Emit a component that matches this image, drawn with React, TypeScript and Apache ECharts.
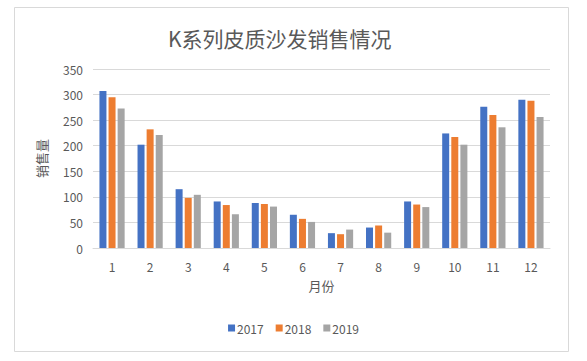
import React, { useEffect, useRef } from "react";
import * as echarts from "echarts";

const months = ["1", "2", "3", "4", "5", "6", "7", "8", "9", "10", "11", "12"];
const sales2017 = [307, 202, 115, 91, 88, 65, 29, 40, 91, 224, 276, 290];
const sales2018 = [295, 232, 98, 84, 86, 57, 27, 44, 85, 217, 260, 288];
const sales2019 = [273, 221, 104, 66, 81, 51, 36, 30, 80, 202, 236, 256];
const yTicks = { min: 0, max: 350, interval: 50 };

const FONT = "'Noto Sans CJK SC', 'Noto Sans', sans-serif";
const TXT = "#595959";

export default function App() {
  const ref = useRef<HTMLDivElement>(null);
  useEffect(() => {
    const chart = echarts.init(ref.current!, null, { renderer: "svg" });
    const bar = (name: string, data: number[], color: string) => ({
      name,
      type: "bar",
      data,
      barWidth: 7,
      barGap: "30%",
      itemStyle: { color },
    });
    chart.setOption({
      animation: false,
      textStyle: { fontFamily: FONT },
      graphic: [
        {
          type: "rect",
          shape: { x: 14.5, y: 7.5, width: 554, height: 344 },
          style: { fill: "none", stroke: "#d9d9d9", lineWidth: 1 },
          z: -1,
        },
      ],
      title: {
        text: "K系列皮质沙发销售情况",
        left: 163,
        top: 22,
        textStyle: { fontFamily: FONT, fontSize: 21, fontWeight: "normal", color: TXT },
      },
      legend: {
        bottom: 22,
        left: "center",
        itemWidth: 7,
        itemHeight: 7,
        itemGap: 12,
        icon: "rect",
        textStyle: { fontFamily: FONT, fontSize: 12, color: TXT, padding: [0, 0, 0, -3] },
        data: ["2017", "2018", "2019"],
      },
      grid: { left: 93, right: 37, top: 69, bottom: 113 },
      xAxis: {
        type: "category",
        data: months,
        name: "月份",
        nameLocation: "middle",
        nameGap: 31,
        nameTextStyle: { fontFamily: FONT, fontSize: 13, color: TXT },
        axisLine: { lineStyle: { color: "#d9d9d9" } },
        axisTick: { show: false },
        axisLabel: { fontFamily: FONT, fontSize: 12, color: TXT, margin: 12 },
      },
      yAxis: {
        type: "value",
        min: yTicks.min,
        max: yTicks.max,
        interval: yTicks.interval,
        name: "销售量",
        nameLocation: "middle",
        nameGap: 45,
        nameRotate: 90,
        nameTextStyle: { fontFamily: FONT, fontSize: 13, color: TXT },
        axisLine: { show: false },
        axisTick: { show: false },
        axisLabel: { fontFamily: FONT, fontSize: 12, color: TXT, margin: 10 },
        splitLine: { lineStyle: { color: "#d9d9d9" } },
      },
      series: [
        bar("2017", sales2017, "#4472C4"),
        bar("2018", sales2018, "#ED7D31"),
        bar("2019", sales2019, "#A5A5A5"),
      ],
    });
    return () => chart.dispose();
  }, []);
  return (
    <div
      ref={ref}
      style={{ position: "fixed", left: 0, top: 0, width: 587, height: 361, background: "#fff" }}
    />
  );
}
